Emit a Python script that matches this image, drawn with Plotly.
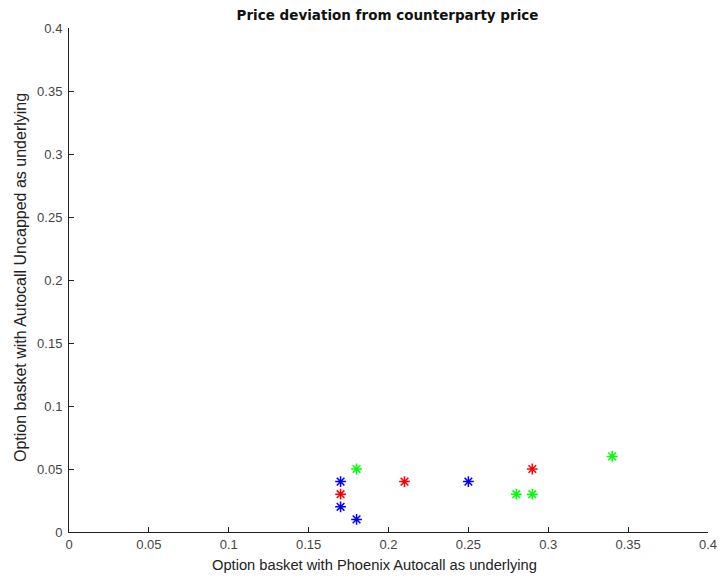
import plotly.graph_objects as go

blue_x = [0.17, 0.17, 0.18, 0.25]
blue_y = [0.04, 0.02, 0.01, 0.04]
red_x = [0.17, 0.21, 0.29]
red_y = [0.03, 0.04, 0.05]
green_x = [0.18, 0.28, 0.29, 0.34]
green_y = [0.05, 0.03, 0.03, 0.06]

tick_vals = [0, 0.05, 0.1, 0.15, 0.2, 0.25, 0.3, 0.35, 0.4]
tick_text = ["0", "0.05", "0.1", "0.15", "0.2", "0.25", "0.3", "0.35", "0.4"]

title_text = "Price deviation from counterparty price"
x_title = "Option basket with Phoenix Autocall as underlying"
y_title = "Option basket with Autocall Uncapped as underlying"

FONT = "Liberation Sans, Arial, sans-serif"

fig = go.Figure()
for xs, ys, col in [(blue_x, blue_y, "#0000ff"), (red_x, red_y, "#ff0000"), (green_x, green_y, "#00ff00")]:
    fig.add_trace(go.Scatter(x=xs, y=ys, mode="markers",
                             marker=dict(symbol="asterisk-open", size=9, color=col,
                                         line=dict(color=col, width=1.5)),
                             showlegend=False))

axis_common = dict(range=[0, 0.4], tickvals=tick_vals, ticktext=tick_text,
                   showgrid=False, zeroline=False, showline=True, automargin=False,
                   linecolor="#222222", linewidth=1, ticks="inside",
                   ticklen=5, tickcolor="#222222", ticklabeloverflow="allow",
                   tickfont=dict(family=FONT, size=13, color="#444444"))

W, H = 720, 580
L, R, T, B = 69, 12, 28, 48
PW, PH = W - L - R, H - T - B
fig.update_layout(
    template="none",
    width=W, height=H,
    margin=dict(l=L, r=R, t=T, b=B),
    paper_bgcolor="white", plot_bgcolor="white",
    title=dict(text="<b>" + title_text + "</b>",
               x=387.5 / W, xanchor="center", y=1 - 15 / H, yanchor="middle",
               font=dict(family="DejaVu Sans, sans-serif", size=13.5, color="#111111")),
    xaxis=dict(**axis_common),
    yaxis=dict(**axis_common, ticklabelstandoff=3),
    annotations=[
        dict(text=x_title, xref="paper", yref="paper", x=(374 - L) / PW, y=0,
             yshift=-33, xanchor="center", yanchor="middle", showarrow=False,
             font=dict(family=FONT, size=14.7, color="#222222")),
        dict(text=y_title, xref="paper", yref="paper", x=0, y=(H - B - 278) / PH,
             xshift=-49, xanchor="center", yanchor="middle", textangle=-90, showarrow=False,
             font=dict(family=FONT, size=16, color="#222222")),
    ],
)

fig.write_html("out.html", config={"displayModeBar": False},
               post_script="document.body.style.margin='0';document.body.style.overflow='hidden';")
